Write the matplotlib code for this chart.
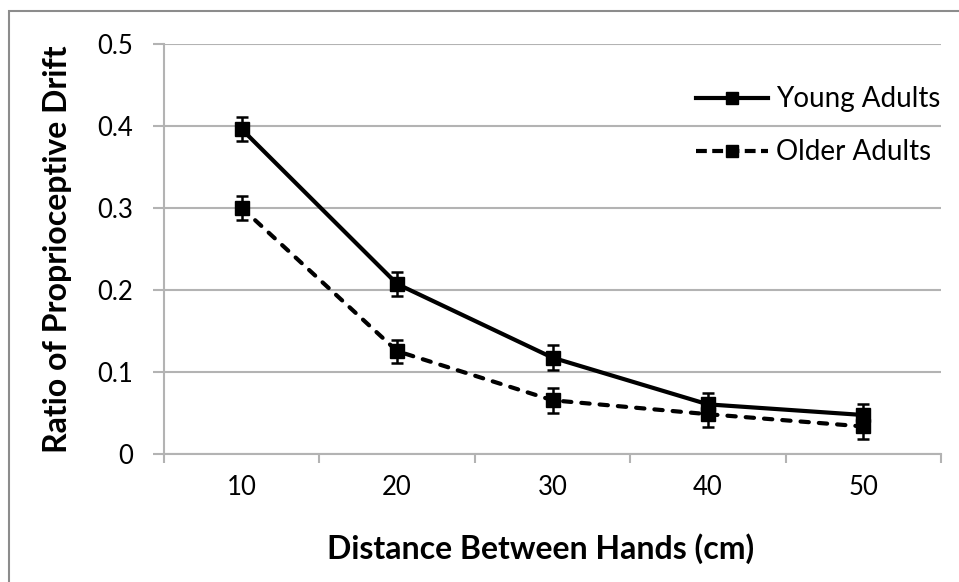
import matplotlib
matplotlib.use("Agg")
import matplotlib.pyplot as plt
from matplotlib.lines import Line2D
from matplotlib.patches import Rectangle
import numpy as np

# Data
distances = ["10", "20", "30", "40", "50"]
young = [0.396, 0.207, 0.117, 0.060, 0.047]
young_err = [0.015, 0.015, 0.015, 0.014, 0.014]
older = [0.300, 0.125, 0.065, 0.048, 0.033]
older_err = [0.015, 0.014, 0.015, 0.016, 0.015]
y_ticks = [0, 0.1, 0.2, 0.3, 0.4, 0.5]
y_tick_labels = ["0", "0.1", "0.2", "0.3", "0.4", "0.5"]

plt.rcParams["font.family"] = ["Lato", "DejaVu Sans"]

W, H = 959, 582
fig = plt.figure(figsize=(W / 100, H / 100), dpi=100)
ax = fig.add_axes([164 / W, 1 - 453.5 / H, (941 - 164) / W, (453.5 - 44) / H])

x = np.arange(len(distances))

ax.errorbar(x, young, yerr=young_err, color="black", lw=3, marker="s", ms=10,
            capsize=4.5, elinewidth=1.8, capthick=1.8, zorder=4)
older_line = ax.errorbar(x, older, yerr=older_err, color="black", lw=3, marker="s", ms=10,
                         capsize=4.5, elinewidth=1.8, capthick=1.8, zorder=3)
older_line[0].set_dashes((2.0, 2.4))
older_line[0].set_dash_capstyle("round")

ax.set_xlim(-0.5, len(distances) - 0.5)
ax.set_ylim(0, 0.5)

grid_color = "#b3b3b3"
ax.set_yticks(y_ticks)
ax.set_yticklabels(y_tick_labels)
ax.yaxis.grid(True, color=grid_color, lw=1.5)
ax.set_axisbelow(True)

# Category boundaries as ticks, labels centred on categories
ax.set_xticks(np.arange(len(distances) + 1) - 0.5)
ax.set_xticklabels([])
ax.set_xticks(x, minor=True)
ax.set_xticklabels(distances, minor=True)
ax.tick_params(axis="x", which="major", length=6.5, width=1.5, color=grid_color, direction="out")
ax.tick_params(axis="x", which="minor", length=0, pad=15.5, labelsize=18.5)
ax.tick_params(axis="y", length=8, width=1.5, color=grid_color, pad=14, labelsize=18.5)

for side in ("top", "right"):
    ax.spines[side].set_visible(False)
for side in ("left", "bottom"):
    ax.spines[side].set_color(grid_color)
    ax.spines[side].set_linewidth(1.5)

# Axis titles
fig.text(58 / W, 1 - 249.5 / H, "Ratio of Proprioceptive Drift", rotation=90,
         ha="center", va="center", fontsize=23, fontweight="bold")
fig.text(541 / W, 1 - 549 / H, "Distance Between Hands (cm)",
         ha="center", va="center", fontsize=23, fontweight="bold")

handles = [
    Line2D([], [], color="black", lw=3, marker="s", ms=8),
    Line2D([], [], color="black", lw=3, marker="s", ms=8, dashes=(2.6, 1.3)),
]
leg = ax.legend(handles, ["Young Adults", "Older Adults"], loc="upper right",
                bbox_to_anchor=(1.021, 0.937), frameon=False, fontsize=20,
                handlelength=2.6, handletextpad=0.28, labelspacing=0.97,
                borderaxespad=0.2)

# Chart border
fig.patches.append(Rectangle((8.5 / W, -0.1), 2, 1 - 10.5 / H + 0.1,
                             transform=fig.transFigure, fill=False,
                             edgecolor="#8c8c8c", lw=1.5))

fig.savefig("out.png", dpi=100)
